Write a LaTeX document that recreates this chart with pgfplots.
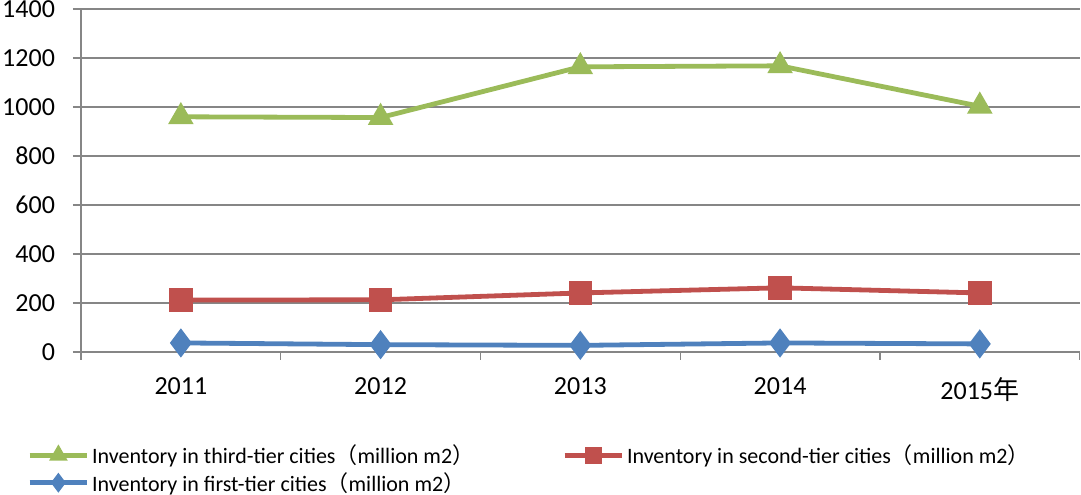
\documentclass[border=0pt]{standalone}
\usepackage{pgfplots}
\pgfplotsset{compat=1.18}
\usepackage{fontspec}
\setmainfont{Carlito}
\newfontfamily\cjk{Noto Sans CJK SC}
\definecolor{cgreen}{HTML}{9BBB59}
\definecolor{cred}{HTML}{C0504D}
\definecolor{cblue}{HTML}{4F81BD}
\definecolor{gridgray}{HTML}{868686}
\begin{document}
\begin{tikzpicture}
\begin{axis}[
  scale only axis, width=749pt, height=257.25pt,
  xmin=-0.5, xmax=4.5, ymin=0, ymax=1400,
  axis lines*=left,
  axis line style={draw=gridgray, line width=0.9pt},
  xtick={0,1,2,3,4},
  xticklabels={2011,2012,2013,2014,2015{\cjk 年}},
  minor xtick={-0.5,0.5,1.5,2.5,3.5,4.5},
  ytick={0,200,...,1400},
  ymajorgrids,
  major grid style={draw=gridgray, line width=0.9pt},
  tick align=outside,
  major tick length=6pt, minor tick length=6pt,
  major x tick style={draw=none},
  minor x tick style={draw=gridgray, line width=0.9pt},
  ytick style={draw=gridgray, line width=0.9pt},
  tick label style={font=\fontsize{19.5}{21}\selectfont},
  xticklabel style={yshift=-9.5pt},
  yticklabel style={xshift=-10pt},
  /pgf/number format/assume math mode=true,
  /pgf/number format/1000 sep={},
  clip=false,
  legend columns=2,
  legend cell align=left,
  legend style={at={(-0.054,-0.262)}, anchor=north west, draw=none, fill=none,
    font=\fontsize{16.5}{18}\selectfont, inner sep=0pt, row sep=1pt,
    /tikz/every even column/.append style={column sep=64pt}},
  legend image code/.code={\draw[mark repeat=2,mark phase=2,mark size=4.5pt] plot coordinates {(0pt,0pt)(21.5pt,0pt)(43pt,0pt)};},
]
\addplot[color=cgreen, line width=3.6pt, mark=triangle*, mark size=7.5pt, mark options={solid}]
  coordinates {(0,960) (1,957) (2,1164) (3,1168) (4,1003)};
\addlegendentry{Inventory in third-tier cities{\cjk （}million m2{\cjk ）}}
\addplot[color=cred, line width=3.6pt, mark=square*, mark size=7pt, mark options={solid}]
  coordinates {(0,212) (1,213) (2,241) (3,262) (4,241)};
\addlegendentry{Inventory in second-tier cities{\cjk （}million m2{\cjk ）}}
\addplot[color=cblue, line width=3.6pt, mark=diamond*, mark size=8pt, mark options={solid}]
  coordinates {(0,37) (1,30) (2,27) (3,37) (4,33)};
\addlegendentry{Inventory in first-tier cities{\cjk （}million m2{\cjk ）}}
\end{axis}
\pgfresetboundingbox
\path (-60.75pt,-107.25pt) rectangle (750pt,264pt);
\end{tikzpicture}
\end{document}
